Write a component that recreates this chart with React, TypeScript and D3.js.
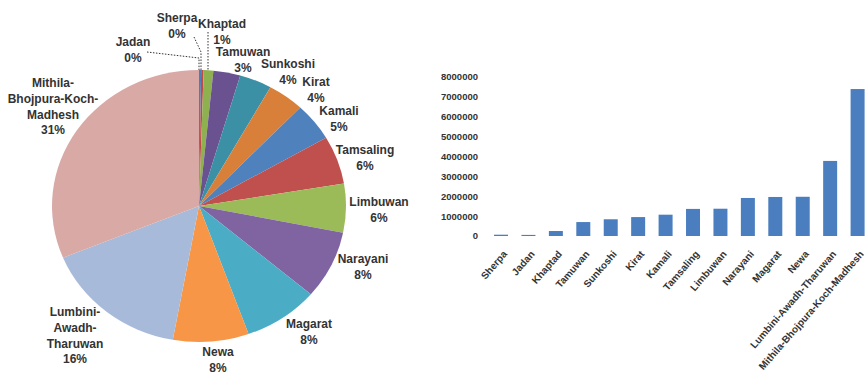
import React from "react";
import * as d3 from "d3";

const categories = [
  "Sherpa", "Jadan", "Khaptad", "Tamuwan", "Sunkoshi", "Kirat", "Kamali",
  "Tamsaling", "Limbuwan", "Narayani", "Magarat", "Newa",
  "Lumbini-Awadh-Tharuwan", "Mithila-Bhojpura-Koch-Madhesh",
];
const population = [
  65000, 55000, 250000, 700000, 840000, 950000, 1070000,
  1360000, 1370000, 1910000, 1960000, 1970000, 3770000, 7380000,
];
const yTicks = [0, 1000000, 2000000, 3000000, 4000000, 5000000, 6000000, 7000000, 8000000];

const sliceColors: Record<string, string> = {
  Jadan: "#4A7EBB", Sherpa: "#BE4B48", Khaptad: "#8FB04E", Tamuwan: "#6A5190",
  Sunkoshi: "#3C90A6", Kirat: "#D8803A", Kamali: "#4F81BD", Tamsaling: "#C0504D",
  Limbuwan: "#9BBB59", Narayani: "#8064A2", Magarat: "#4BACC6", Newa: "#F79646",
  "Lumbini-Awadh-Tharuwan": "#A8BAD9", "Mithila-Bhojpura-Koch-Madhesh": "#D9A9A6",
};

// label layout: center x, first-line center y, lines of the name
const labelLayout: Record<string, { x: number; y: number; lines: string[] }> = {
  Jadan: { x: 133, y: 42, lines: ["Jadan"] },
  Sherpa: { x: 177, y: 18, lines: ["Sherpa"] },
  Khaptad: { x: 222, y: 24, lines: ["Khaptad"] },
  Tamuwan: { x: 243, y: 52, lines: ["Tamuwan"] },
  Sunkoshi: { x: 288, y: 64, lines: ["Sunkoshi"] },
  Kirat: { x: 316, y: 82, lines: ["Kirat"] },
  Kamali: { x: 339, y: 111, lines: ["Kamali"] },
  Tamsaling: { x: 365, y: 150, lines: ["Tamsaling"] },
  Limbuwan: { x: 379, y: 202, lines: ["Limbuwan"] },
  Narayani: { x: 363, y: 259, lines: ["Narayani"] },
  Magarat: { x: 309, y: 324, lines: ["Magarat"] },
  Newa: { x: 218, y: 352, lines: ["Newa"] },
  "Lumbini-Awadh-Tharuwan": { x: 75, y: 312, lines: ["Lumbini-", "Awadh-", "Tharuwan"] },
  "Mithila-Bhojpura-Koch-Madhesh": { x: 53, y: 83, lines: ["Mithila-", "Bhojpura-Koch-", "Madhesh"] },
};

const leaders: Record<string, [number, number][]> = {
  Jadan: [[147, 52], [199, 58], [199, 70]],
  Sherpa: [[194, 37], [201, 52], [201, 70]],
  Khaptad: [[208, 32], [208, 70]],
};

const FONT = "'Liberation Sans', Arial, sans-serif";
const TEXT = "#333333";

export default function App() {
  const W = 865, H = 378;
  const data = categories.map((c, i) => ({ name: c, value: population[i] }));
  const total = d3.sum(population);

  // Pie
  const pieOrder = [...data].sort((a, b) => a.value - b.value);
  const pie = d3.pie<{ name: string; value: number }>().sort(null).value(d => d.value);
  const arcs = pie(pieOrder);
  const R = 136;
  const arcGen = d3.arc<d3.PieArcDatum<{ name: string; value: number }>>().innerRadius(0).outerRadius(R);
  const cx = 199, cy = 206, sx = 147 / 136;

  // Bars
  const x = d3.scaleBand().domain(categories).range([487.3, 871.3]).paddingInner(0.49).paddingOuter(0.245);
  const y = d3.scaleLinear().domain([0, 8000000]).range([236, 76.7]);

  const lh = 15.7;

  return (
    <svg width={W} height={H} style={{ position: "absolute", left: 0, top: 0, background: "#fff" }}>
      <g transform={`translate(${cx},${cy}) scale(${sx},1)`}>
        {arcs.map(a => (
          <path key={a.data.name} d={arcGen(a) || ""} fill={sliceColors[a.data.name]} />
        ))}
      </g>
      {Object.entries(leaders).map(([k, pts]) => (
        <polyline key={k} points={pts.map(p => p.join(",")).join(" ")} fill="none"
          stroke="#333" strokeWidth={1} strokeDasharray="1.5,1.5" />
      ))}
      {arcs.map(a => {
        const L = labelLayout[a.data.name];
        const pct = Math.round((a.data.value / total) * 100) + "%";
        const lines = [...L.lines, pct];
        return (
          <text key={a.data.name} fontFamily={FONT} fontWeight="bold" fontSize={12} fill={TEXT} textAnchor="middle">
            {lines.map((t, i) => (
              <tspan key={i} x={L.x} y={L.y + i * lh} dy="0.36em">{t}</tspan>
            ))}
          </text>
        );
      })}

      {/* bar chart */}
      {yTicks.map(t => (
        <text key={t} x={478} y={y(t)} dy="0.36em" textAnchor="end" fontFamily={FONT}
          fontWeight="bold" fontSize={9.5} fill={TEXT}>{t}</text>
      ))}
      {data.map(d => (
        <rect key={d.name} x={x(d.name)} y={y(d.value)} width={x.bandwidth()}
          height={y(0) - y(d.value)} fill="#4A7EBF" />
      ))}
      {categories.map(c => (
        <text key={c} transform={`translate(${(x(c) as number) + x.bandwidth() / 2 + 4},${252}) rotate(-49)`}
          textAnchor="end" dy="0.36em" fontFamily={FONT} fontWeight="bold" fontSize={10} fill={TEXT}>{c}</text>
      ))}
    </svg>
  );
}
